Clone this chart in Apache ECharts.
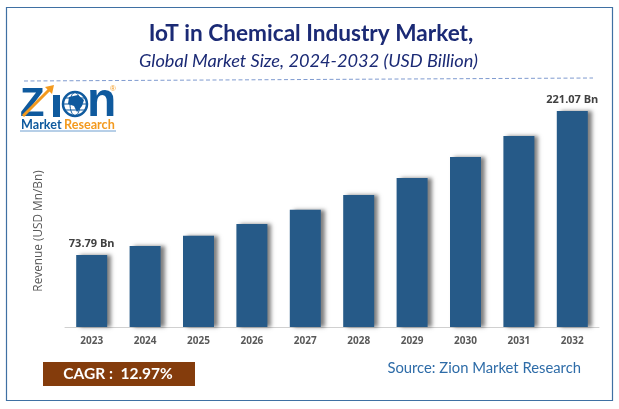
<!DOCTYPE html>
<html>
<head>
<meta charset="utf-8">
<title>IoT in Chemical Industry Market</title>
<script src="https://cdn.jsdelivr.net/npm/echarts@6/dist/echarts.min.js"></script>
<style>
html, body { margin: 0; padding: 0; background: #fff; }
#main { width: 619px; height: 409px; }
</style>
</head>
<body>
<div id="main"></div>
<script>
var years = ['2023', '2024', '2025', '2026', '2027', '2028', '2029', '2030', '2031', '2032'];
var revenue = [73.79, 83, 93.5, 105.5, 120, 135, 152.5, 174, 195.5, 221.07];
var barLabels = ['73.79 Bn', '', '', '', '', '', '', '', '', '221.07 Bn'];

var myChart = echarts.init(document.getElementById('main'), null, { renderer: 'canvas' });

var blue = '#0f5a9e';
var orange = '#f39a1f';

var option = {
	animation: false,
	backgroundColor: '#fff',
	title: [
		{
			text: 'IoT in Chemical Industry Market,',
			left: 306, top: 17, textAlign: 'center',
			textStyle: { fontFamily: 'Lato', fontSize: 22.6, fontWeight: 'bold', color: '#1b2a75' }
		},
		{
			text: 'Global Market Size, 2024-2032 (USD Billion)',
			left: 303.5, top: 47, textAlign: 'center',
			textStyle: { fontFamily: 'Lato', fontSize: 18.2, fontStyle: 'italic', fontWeight: 'normal', color: '#1b2a75' }
		}
	],
	grid: { left: 65, right: 20, top: 92.5, bottom: 82 },
	xAxis: {
		type: 'category',
		data: years,
		axisTick: { show: false },
		axisLine: { lineStyle: { color: '#d0d0d0', width: 1 } },
		axisLabel: { margin: 9, fontFamily: 'Open Sans', fontSize: 10, fontWeight: 'bold', color: '#595959', interval: 0 }
	},
	yAxis: { type: 'value', min: 0, max: 240, show: false },
	series: [{
		type: 'bar',
		data: revenue,
		barWidth: 31,
		itemStyle: {
			color: '#265a88',
			shadowColor: 'rgba(0,0,0,0.5)',
			shadowBlur: 4,
			shadowOffsetX: 4,
			shadowOffsetY: 0
		},
		label: {
			show: true,
			position: 'top',
			distance: 6,
			fontFamily: 'Open Sans',
			fontSize: 11,
			fontWeight: 'bold',
			color: '#404040',
			formatter: function (p) { return barLabels[p.dataIndex]; }
		}
	}],
	graphic: [
		// frame
		{ type: 'rect', shape: { x: 6.5, y: 7.5, width: 606, height: 393 }, style: { fill: 'none', stroke: '#3f70a3', lineWidth: 1.2 } },
		// dashed rule under the titles
		{ type: 'line', shape: { x1: 24, y1: 81, x2: 593, y2: 78 }, style: { stroke: '#7f9bd0', lineWidth: 1, lineDash: [4, 2.5] } },
		// y axis title
		{ type: 'text', x: 38.5, y: 231, rotation: Math.PI / 2,
			style: { text: 'Revenue (USD Mn/Bn)', fontFamily: 'Open Sans', fontSize: 11.8, fill: '#595959', align: 'center', verticalAlign: 'middle' } },
		// CAGR box
		{ type: 'rect', shape: { x: 43, y: 362, width: 152, height: 24 }, style: { fill: '#843c0c' } },
		{ type: 'text', x: 118, y: 374, style: { text: 'CAGR :  12.97%', fontFamily: 'Lato', fontSize: 15.5, fontWeight: 'bold', fill: '#fff', align: 'center', verticalAlign: 'middle' } },
		// source
		{ type: 'text', x: 581, y: 368, style: { text: 'Source: Zion Market Research', fontFamily: 'Lato', fontSize: 14.8, fill: '#2e6ca8', align: 'right', verticalAlign: 'middle' } },
		// logo
		{ type: 'text', x: 20, y: 125, style: { text: 'Z', fontFamily: 'Liberation Sans', fontSize: 40, fontWeight: 'bold', fill: blue, verticalAlign: 'bottom' } },
		{ type: 'polyline', shape: { points: [[23, 116], [49, 90]] }, style: { stroke: orange, lineWidth: 3 } },
		{ type: 'polygon', shape: { points: [[54, 85], [52, 94], [45, 87]] }, style: { fill: orange } },
		{ type: 'rect', shape: { x: 53, y: 95, width: 7, height: 22 }, style: { fill: blue } },
		{ type: 'circle', shape: { cx: 75, cy: 104, r: 12 }, style: { fill: '#fff', stroke: blue, lineWidth: 2.5 } },
		{ type: 'ellipse', shape: { cx: 75, cy: 104, rx: 5, ry: 11.5 }, style: { fill: 'none', stroke: blue, lineWidth: 1 } },
		{ type: 'line', shape: { x1: 63, y1: 104, x2: 87, y2: 104 }, style: { stroke: blue, lineWidth: 1 } },
		{ type: 'line', shape: { x1: 65, y1: 98, x2: 85, y2: 98 }, style: { stroke: blue, lineWidth: 1 } },
		{ type: 'line', shape: { x1: 65, y1: 110, x2: 85, y2: 110 }, style: { stroke: blue, lineWidth: 1 } },
		{ type: 'polygon', shape: { points: [[69, 97], [78, 95], [84, 100], [82, 106], [77, 112], [74, 106], [68, 104]] }, style: { fill: blue } },
		{ type: 'text', x: 87, y: 127, style: { text: 'n', fontFamily: 'Liberation Sans', fontSize: 48, fontWeight: 'bold', fill: blue, verticalAlign: 'bottom' } },
		{ type: 'text', x: 110, y: 89, style: { text: '®', fontFamily: 'Liberation Sans', fontSize: 8, fill: orange, verticalAlign: 'middle' } },
		{ type: 'text', x: 21, y: 125, style: { text: 'Market', fontFamily: 'Lato', fontSize: 12.6, fontWeight: 'bold', fill: blue, verticalAlign: 'middle' } },
		{ type: 'text', x: 64, y: 125, style: { text: 'Research', fontFamily: 'Lato', fontSize: 12.6, fontWeight: 'bold', fill: orange, verticalAlign: 'middle' } },
		{ type: 'line', shape: { x1: 20, y1: 131, x2: 116, y2: 131 }, style: { stroke: '#6f9fd0', lineWidth: 1 } }
	]
};

myChart.setOption(option);
</script>
</body>
</html>
